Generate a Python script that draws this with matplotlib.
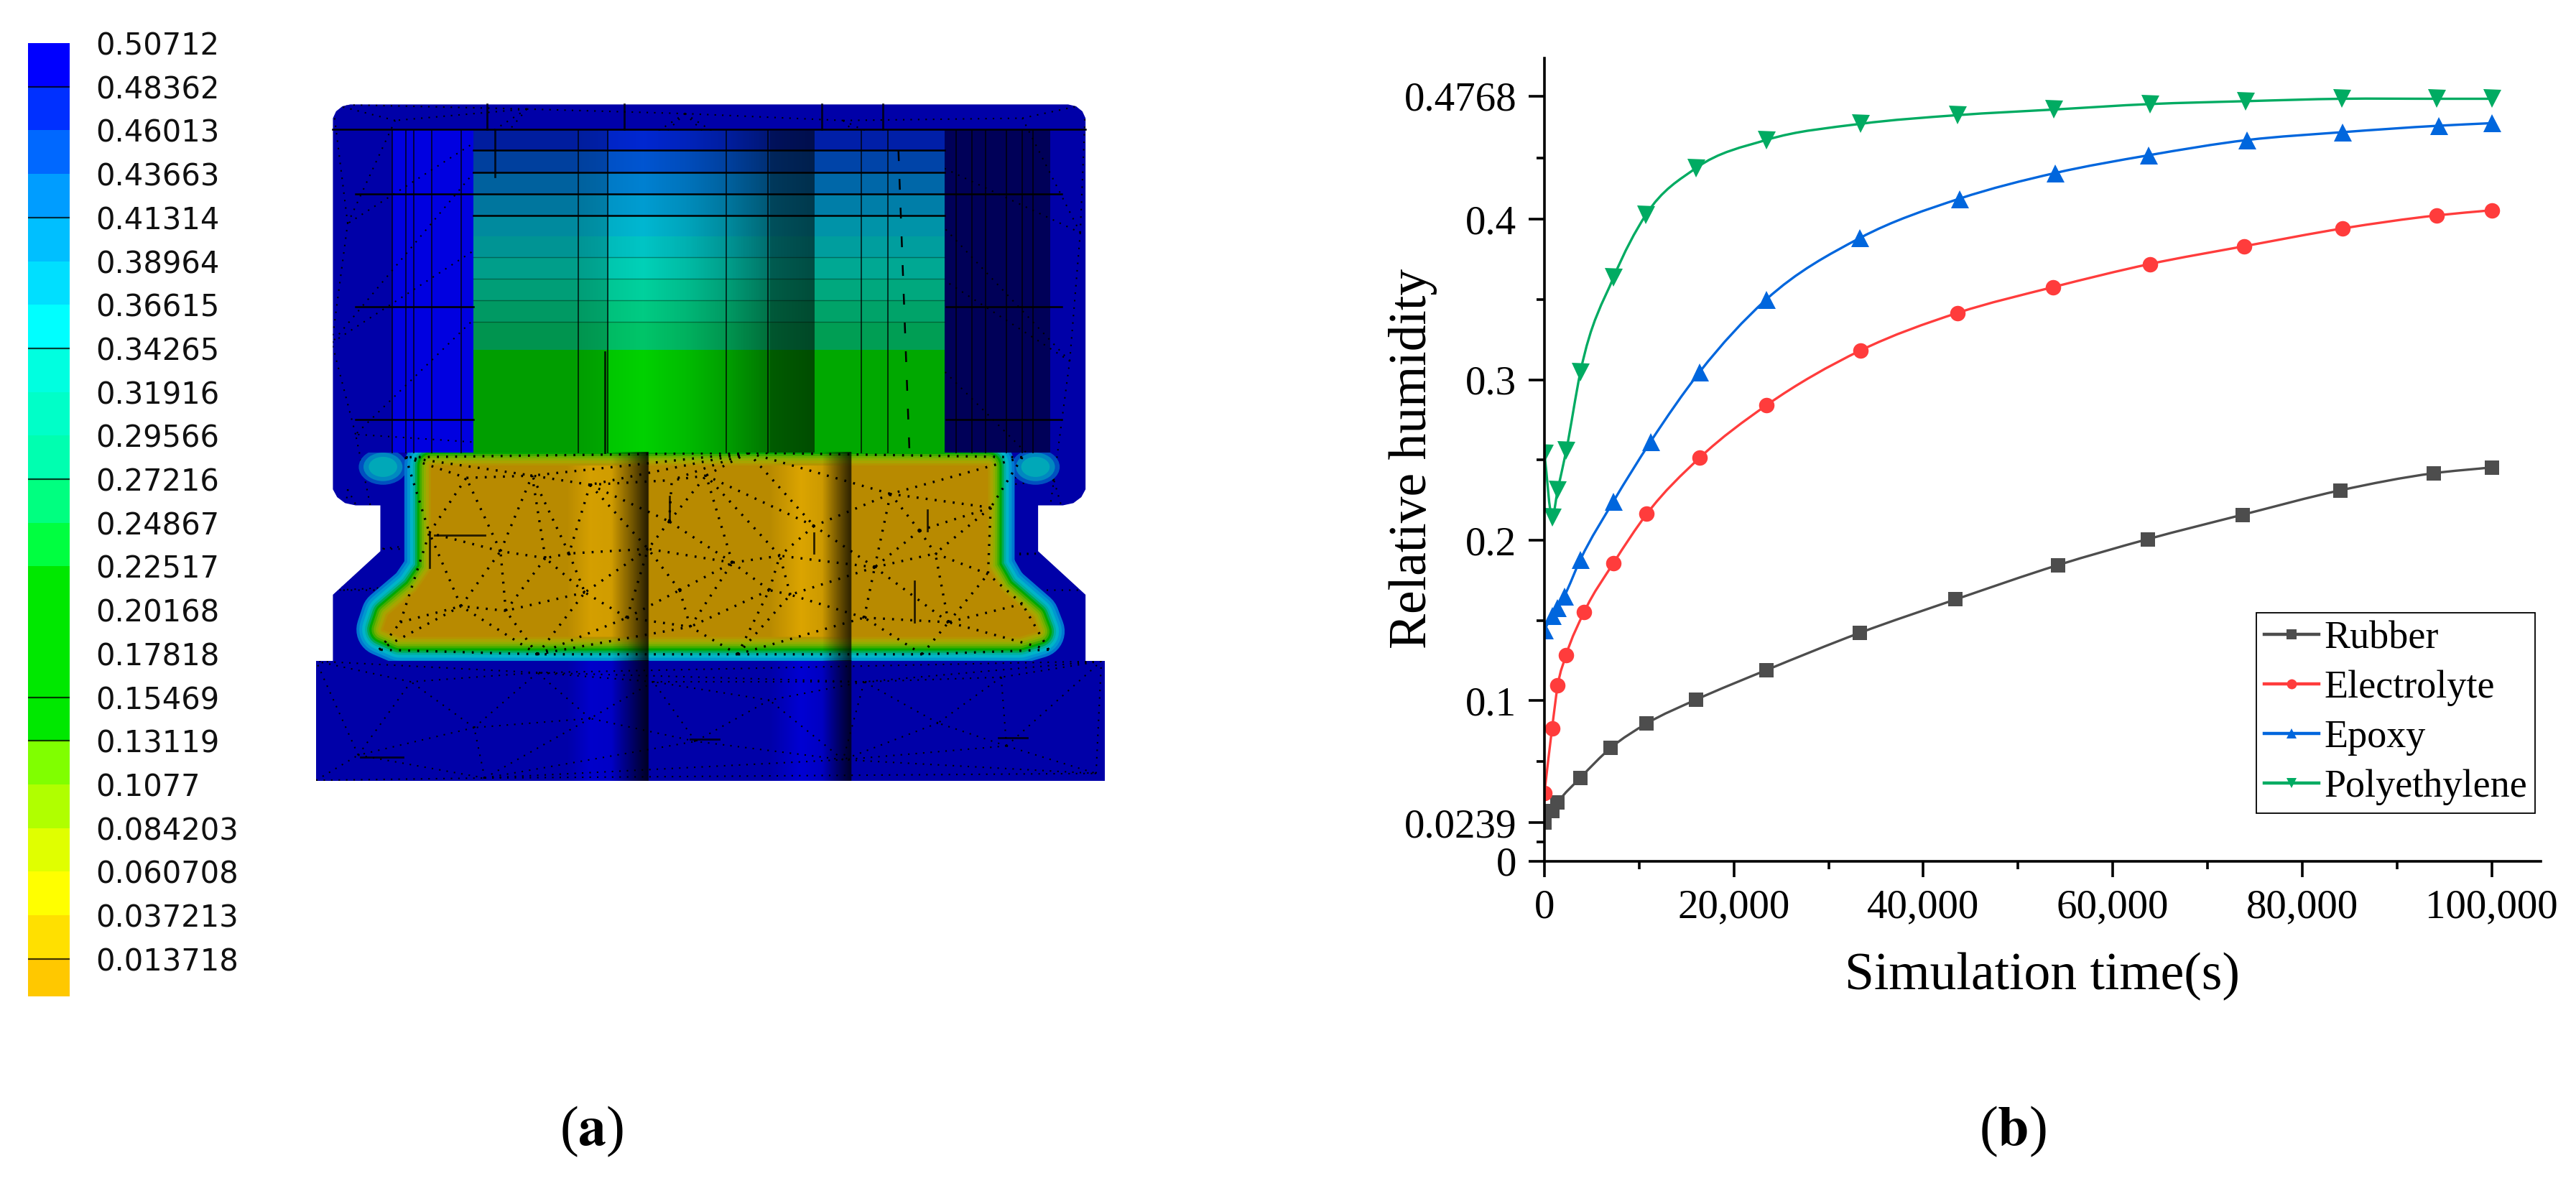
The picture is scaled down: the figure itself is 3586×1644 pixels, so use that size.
"""
Two panel figure: humidity field of a capacitor section with its contour
scale (a) and relative humidity against simulation time per material (b).
"""

import numpy as np
import matplotlib.pyplot as plt
from matplotlib.colors import ListedColormap, to_rgb
from matplotlib.lines import Line2D
from matplotlib.patches import Ellipse, PathPatch, Polygon, Rectangle
from matplotlib.path import Path
from matplotlib.ticker import FuncFormatter
from matplotlib.tri import Triangulation, TriAnalyzer

W, H = 3586, 1644

# contour scale
scale_labels = ["0.50712", "0.48362", "0.46013", "0.43663", "0.41314", "0.38964",
                "0.36615", "0.34265", "0.31916", "0.29566", "0.27216", "0.24867",
                "0.22517", "0.20168", "0.17818", "0.15469", "0.13119", "0.1077",
                "0.084203", "0.060708", "0.037213", "0.013718"]
scale_colors = ["#0000ff", "#0030ff", "#0068ff", "#009dff", "#00bfff", "#00dfff",
                "#00ffff", "#00ffe0", "#00ffc8", "#00ffb0", "#00ff80", "#00ff40",
                "#00e800", "#00e800", "#00e800", "#00e800", "#80ff00", "#b0ff00",
                "#e0ff00", "#ffff00", "#ffe000", "#ffc800"]
scale_lines = [1, 4, 7, 10, 15, 16, 21]

# humidity curves
time_rubber = [0, 800, 1400, 3800, 7000, 10800, 16000, 23400, 33300, 43400,
               54200, 63700, 73700, 84000, 93900, 100000]
rubber = [0.024, 0.0314, 0.0366, 0.052, 0.0706, 0.0858, 0.1006, 0.119, 0.1423,
          0.1631, 0.1845, 0.2007, 0.2159, 0.2311, 0.2418, 0.2454]
time_electrolyte = [0, 800, 1400, 2300, 4200, 7300, 10800, 16400, 23400, 33400,
                    43600, 53700, 63900, 73900, 84300, 94200, 100000]
electrolyte = [0.0426, 0.0826, 0.1094, 0.1286, 0.1554, 0.1859, 0.2164, 0.2515,
               0.284, 0.3184, 0.3417, 0.3578, 0.3722, 0.3833, 0.3944, 0.4025, 0.4057]
time_epoxy = [0, 800, 1400, 2100, 3800, 7300, 11200, 16400, 23400, 33300,
              43800, 53900, 63800, 74200, 84300, 94400, 100000]
epoxy = [0.144, 0.153, 0.158, 0.1653, 0.188, 0.2244, 0.2614, 0.305, 0.35, 0.3884,
         0.4129, 0.4289, 0.44, 0.4495, 0.4544, 0.4584, 0.46]
time_polyethylene = [0, 800, 1400, 2300, 3800, 7300, 10700, 16000, 23400, 33400,
                     43600, 53800, 63900, 74000, 84200, 94200, 100000]
polyethylene = [0.254, 0.2143, 0.2314, 0.2559, 0.305, 0.3639, 0.4028, 0.432,
                0.4495, 0.4596, 0.465, 0.4685, 0.4719, 0.4737, 0.4752, 0.4752, 0.4752]

y_major = [0, 0.0239, 0.1, 0.2, 0.3, 0.4, 0.4768]
y_major_labels = ["0", "0.0239", "0.1", "0.2", "0.3", "0.4", "0.4768"]
y_minor = [0.012, 0.062, 0.15, 0.25, 0.35, 0.4384]
x_major = [0, 20000, 40000, 60000, 80000, 100000]
x_minor = [10000, 30000, 50000, 70000, 90000]

# section drawing, outline of the left half and the colour bands of the cavity
shell_left = [(746, 40), (65, 40), (50, 44), (38, 55), (32, 70), (32, 880), (40, 897),
              (55, 910), (75, 915), (122, 915), (122, 1015), (32, 1110), (32, 1255), (746, 1255)]
band_edges = [97, 140, 188, 235, 282, 328, 373, 420, 467, 515, 575, 800]
band_colors = ["#0030ff", "#0068ff", "#009dff", "#00bfff", "#00dfff", "#00f0f0",
               "#00ffe0", "#00ffc0", "#00f8a0", "#00f080", "#00ff00"]
core_outline = [(218, 828), (218, 1055), (190, 1102), (136, 1155), (127, 1186), (159, 1202),
                (1335, 1202), (1370, 1190), (1360, 1160), (1300, 1100), (1275, 1050), (1275, 828)]
field_layers = [(37, "#0078d0"), (33, "#0098d0"), (29, "#00b4c8"), (25, "#00b0a0"),
                (22, "#00aa50"), (19, "#00a800"), (16, "#40ac00"), (13, "#70b000"),
                (10, "#90ae00"), (7, "#a8a400"), (3, "#b49400")]
nub_layers = [(92, 78, "#0050c0"), (74, 62, "#0088c0"), (54, 44, "#00a8b8")]
nub_centers = [(127, 831), (1365, 831)]
core_nodes = [(285, 855), (410, 850), (215, 975), (350, 1015), (435, 1030), (275, 1135),
              (360, 1145), (510, 1105), (480, 1020), (630, 1010), (675, 860), (740, 850),
              (670, 950), (790, 1040), (880, 1025), (945, 960), (710, 1180), (690, 1100),
              (860, 1100), (900, 1110), (1090, 890), (1175, 1020), (1060, 1050), (1275, 1065),
              (1145, 970), (1280, 920), (1040, 1160), (1200, 1170), (1340, 1130), (160, 1170),
              (590, 1160), (520, 870), (120, 1230), (420, 1240), (800, 1240), (1150, 1240),
              (1390, 1230), (170, 810), (820, 800), (1340, 810)]
base_nodes = [(0, 1255), (180, 1300), (80, 1460), (300, 1400), (420, 1280), (520, 1380),
              (640, 1300), (720, 1430), (860, 1340), (1000, 1470), (1040, 1300), (1180, 1390),
              (1300, 1290), (1490, 1255), (1480, 1500), (1310, 1440), (320, 1510), (0, 1515)]
shell_nodes = [(32, 40), (150, 75), (60, 300), (30, 560), (75, 760), (40, 1100), (120, 1010),
               (60, 880), (1460, 40), (1340, 70), (1450, 320), (1430, 600), (1400, 860),
               (1460, 1100), (1380, 1020), (700, 60), (400, 50), (1000, 75)]
cavity_verticals = [497, 553, 778, 858, 1035, 1085]
side_verticals = [145, 170, 185, 220, 275, 1215, 1245, 1270, 1310, 1340, 1360]
long_horizontals = [(32, 1460, 95), (75, 1415, 235), (298, 1193, 140), (298, 1193, 188),
                    (298, 1193, 282), (75, 298, 482), (1195, 1415, 482), (75, 298, 728),
                    (1195, 1415, 728)]
faint_horizontals = [373, 420, 467, 515]
short_marks = [(85, 1465, 165, 1465), (710, 1425, 765, 1425), (1295, 1422, 1350, 1422),
               (1135, 1080, 1135, 1170), (1160, 925, 1160, 970), (945, 975, 945, 1020),
               (670, 895, 670, 945), (548, 580, 548, 800), (225, 980, 320, 980),
               (215, 975, 215, 1050), (340, 97, 340, 197), (325, 40, 325, 95),
               (585, 40, 585, 95), (960, 40, 960, 95), (1075, 40, 1075, 95)]
column_knots = [298, 497, 553, 555, 620, 700, 780, 860, 862, 945, 946, 1193]
column_light = [0.62, 0.62, 0.66, 0.78, 0.82, 0.74, 0.62, 0.46, 0.36, 0.30, 0.66, 0.66]
shade_knots = [0, 475, 520, 560, 590, 630, 631, 860, 920, 960, 1015, 1016, 1500]
shade_tint = [0, 0, 0.4, 0.35, 0, 0, 0, 0, 0.5, 0.3, 0, 0, 0]
shade_dark = [0, 0, 0, 0, 0.25, 0.8, 0, 0, 0, 0, 0.75, 0, 0]

plt.rcParams["font.family"] = ["Liberation Serif", "DejaVu Serif"]


def add_axes_px(fig, left, top, right, bottom):
    """Axes placed by its edges in picture pixels."""
    return fig.add_axes([left / W, 1 - bottom / H, (right - left) / W, (bottom - top) / H])


def draw_scale(fig):
    ax = add_axes_px(fig, 39, 60, 97, 1387)
    edges = np.append(np.arange(len(scale_labels)), 21.86)
    ax.pcolormesh([0, 1], edges, np.arange(len(scale_colors)).reshape(-1, 1),
                  cmap=ListedColormap(scale_colors), shading="flat")
    ax.set_ylim(edges[-1], 0)
    ax.hlines(scale_lines, 0, 1, color="black", lw=1.6, alpha=0.75)
    ax.set_xticks([])
    ax.yaxis.tick_right()
    ax.set_yticks(np.arange(len(scale_labels)), scale_labels, family="DejaVu Sans", fontsize=30)
    ax.tick_params(axis="y", length=0, pad=26, colors="#111111")
    for spine in ax.spines.values():
        spine.set_visible(False)


def shade_strip(ax, extent, tint=None, clip=None):
    """Darkening of the round columns, optionally with a lighter tint clipped to a patch."""
    xs = np.linspace(0, 1500, 1500)
    rgba = np.zeros((1, xs.size, 4))
    if tint is None:
        rgba[..., 3] = np.interp(xs, shade_knots, shade_dark)
    else:
        rgba[..., :3] = to_rgb(tint)
        rgba[..., 3] = np.interp(xs, shade_knots, shade_tint)
    im = ax.imshow(rgba, extent=[0, 1500, extent[1], extent[0]], aspect="auto",
                   interpolation="bilinear", zorder=3)
    if clip is not None:
        im.set_clip_path(clip)


def mesh_lines(ax, nodes, clip, lw, zorder=5, dash=(1, 4)):
    nodes = np.array(nodes, dtype=float)
    tri = Triangulation(nodes[:, 0], nodes[:, 1])
    tri.set_mask(TriAnalyzer(tri).get_flat_tri_mask(0.05))
    lines, _ = ax.triplot(tri, color="black", lw=lw, ls=(0, dash), zorder=zorder)
    lines.set_clip_path(clip)


def draw_section(fig):
    # axes data units follow the section drawing, not the picture pixels
    ax = add_axes_px(fig, 436.3, 139, 1540.5, 1092.6)
    ax.set_xlim(-5, 1500)
    ax.set_ylim(1525, 30)
    ax.axis("off")

    left = np.array(shell_left, dtype=float)
    right = left[::-1].copy()
    right[:, 0] = 1492 - right[:, 0]
    shell = Polygon(np.vstack([left, right]), closed=True, fc="#0000a8", ec="none", zorder=1)
    ax.add_patch(shell)
    ax.add_patch(Rectangle((145, 95), 153, 705, fc="#0000e0", ec="none", zorder=1))
    ax.add_patch(Rectangle((1193, 95), 200, 705, fc="#000058", ec="none", zorder=1))
    mesh_lines(ax, shell_nodes, shell, 1.5, zorder=1.5)

    # cavity: bands from the contour scale times the shading of the cylinder
    rows = np.arange(band_edges[0], band_edges[-1])
    cols = np.arange(column_knots[0], column_knots[-1])
    idx = np.searchsorted(band_edges, rows, side="right") - 1
    band_rgb = np.array([to_rgb(c) for c in band_colors])[idx]
    light = np.interp(cols, column_knots, column_light)
    cavity = band_rgb[:, None, :] * light[None, :, None]
    ax.imshow(cavity, extent=[cols[0], cols[-1], rows[-1], rows[0]], aspect="auto",
              interpolation="nearest", zorder=2)

    # electrolyte field: stroked outline gives the bands around the core
    top_clip = Rectangle((0, 800), 1500, 455, transform=ax.transData)
    for center in nub_centers:
        for width, height, color in nub_layers:
            nub = Ellipse(center, width, height, fc=color, ec="none", zorder=2)
            ax.add_patch(nub)
            nub.set_clip_path(top_clip)
    for half_width, color in field_layers:
        band = Polygon(core_outline, closed=True, fc="none", ec=color, lw=2 * half_width * 0.72,
                       joinstyle="round", zorder=2)
        ax.add_patch(band)
        band.set_clip_path(top_clip)
    core = Polygon(core_outline, closed=True, fc="#b88a00", ec="none", zorder=2)
    ax.add_patch(core)
    core.set_clip_path(top_clip)

    base = Rectangle((0, 1255), 1497, 262, fc="#0000a8", ec="none", zorder=2)
    ax.add_patch(base)

    shade_strip(ax, (800, 1255), tint="#ffc000", clip=core)
    shade_strip(ax, (1255, 1517), tint="#0000ff", clip=base)
    shade_strip(ax, (800, 1255))
    shade_strip(ax, (1255, 1517))

    # mesh traces
    for x in cavity_verticals + side_verticals:
        ax.plot([x, x], [97, 800], color="black", lw=1.4, alpha=0.7, zorder=4)
    for x0, x1, y in long_horizontals:
        ax.plot([x0, x1], [y, y], color="black", lw=1.8, zorder=4)
    for y in faint_horizontals:
        ax.plot([298, 1193], [y, y], color="black", lw=1, alpha=0.35, zorder=4)
    for x0, y0, x1, y1 in short_marks:
        ax.plot([x0, x1], [y0, y1], color="black", lw=2, alpha=0.8, zorder=4)
    ax.plot([1105, 1126], [140, 800], color="black", lw=1.8, ls=(0, (6, 10)), zorder=4)
    mesh_lines(ax, core_nodes, top_clip, 2.4, dash=(0.8, 3))
    mesh_lines(ax, base_nodes, base, 1.5)


def smooth_path(x, y):
    """Bezier path through the points of a series, tangents from the neighbours."""
    x = np.asarray(x, dtype=float)
    y = np.asarray(y, dtype=float)
    slopes = np.gradient(y, x)
    verts = [(x[0], y[0])]
    codes = [Path.MOVETO]
    for i in range(len(x) - 1):
        step = (x[i + 1] - x[i]) / 3
        verts += [(x[i] + step, y[i] + slopes[i] * step),
                  (x[i + 1] - step, y[i + 1] - slopes[i + 1] * step),
                  (x[i + 1], y[i + 1])]
        codes += [Path.CURVE4] * 3
    return Path(verts, codes)


def draw_curves(fig):
    ax = add_axes_px(fig, 2150, 81, 3537, 1198.7)
    ax.set_xlim(0, 105195)
    ax.set_ylim(0, 0.5005)
    ax.patch.set_alpha(0)

    series = [
        ("Rubber", time_rubber, rubber, "#4d4d4d", "s", 14),
        ("Electrolyte", time_electrolyte, electrolyte, "#ff3c3c", "o", 15.5),
        ("Epoxy", time_epoxy, epoxy, "#0066dd", "^", 18),
        ("Polyethylene", time_polyethylene, polyethylene, "#00ab62", "v", 18),
    ]
    handles = []
    for label, x, y, color, marker, size in series:
        ax.add_patch(PathPatch(smooth_path(x, y), fc="none", ec=color, lw=2.4, zorder=2))
        ax.plot(x, y, ls="none", marker=marker, ms=size, mfc=color, mew=0, zorder=2.5)
        handles.append(Line2D([0], [0], color=color, lw=3.2, marker=marker, ms=10, mew=0, label=label))

    ax.spines["top"].set_visible(False)
    ax.spines["right"].set_visible(False)
    ax.spines["left"].set_linewidth(2.6)
    ax.spines["bottom"].set_linewidth(2.6)

    ax.set_xticks(x_major)
    ax.set_xticks(x_minor, minor=True)
    ax.xaxis.set_major_formatter(FuncFormatter(lambda v, _: f"{int(v):,}"))
    ax.set_yticks(y_major, y_major_labels)
    ax.set_yticks(y_minor, minor=True)
    ax.tick_params(axis="both", which="major", length=16, width=2.6, labelsize=41)
    ax.tick_params(axis="both", which="minor", length=8, width=2.6)
    ax.tick_params(axis="x", which="major", pad=12)
    ax.tick_params(axis="y", which="major", pad=12)

    fig.text(2843 / W, 1 - 1359 / H, "Simulation time(s)", fontsize=53, ha="center", va="center")
    fig.text(1967 / W, 1 - 638 / H, "Relative humidity", fontsize=53, rotation=90,
             ha="center", va="center")

    ax.legend(handles=handles, loc="upper left", bbox_to_anchor=(3141 / W, 1 - 853 / H),
              bbox_transform=fig.transFigure, fontsize=39, frameon=True, fancybox=False,
              framealpha=1, edgecolor="black", borderaxespad=0, borderpad=0.2,
              labelspacing=0.34, handlelength=1.4, handletextpad=0.15).get_frame().set_linewidth(1.3)


fig = plt.figure(figsize=(W / 100, H / 100), dpi=100)
draw_scale(fig)
draw_section(fig)
draw_curves(fig)

for x, letter in ((824, "a"), (2802, "b")):
    fig.text(x / W, 1 - 1594 / H, rf"($\mathbf{{{letter}}}$)", fontsize=56, ha="center",
             va="baseline", math_fontfamily="stix")

fig.savefig("out.png", dpi=100)
